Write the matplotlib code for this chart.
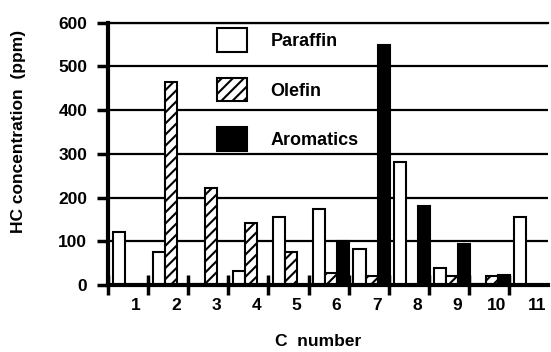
import matplotlib
matplotlib.use("Agg")
import matplotlib.pyplot as plt
from matplotlib.patches import Patch
import numpy as np

plt.rcParams['font.family'] = ['Liberation Sans', 'DejaVu Sans']
plt.rcParams['font.weight'] = 'bold'
plt.rcParams['hatch.linewidth'] = 1.5

categories = [1, 2, 3, 4, 5, 6, 7, 8, 9, 10, 11]
paraffin = [122, 76, 3, 33, 155, 174, 82, 281, 39, 3, 155]
olefin = [0, 464, 221, 141, 76, 27, 20, 0, 20, 20, 0]
aromatics = [0, 0, 0, 0, 0, 100, 548, 180, 94, 24, 0]
series_names = ["Paraffin", "Olefin", "Aromatics"]
y_ticks = [0, 100, 200, 300, 400, 500, 600]

fig = plt.figure(figsize=(5.51, 3.52), dpi=100)
ax = fig.add_axes([108/551, 1-285/352, 440/551, (285-22.7)/352])

x = np.array(categories, dtype=float)
w = 0.3
ax.bar(x - 0.23, paraffin, w, facecolor='white', edgecolor='black', linewidth=1.5, zorder=3)
ax.bar(x + 0.07, olefin, w, facecolor='white', edgecolor='black', linewidth=1.5, hatch='///', zorder=3)
ax.bar(x + 0.37, aromatics, w, facecolor='black', edgecolor='black', linewidth=1.5, zorder=3)

ax.set_xlim(0.5, 11.47)
ax.set_ylim(0, 600)
ax.set_yticks(y_ticks)
ax.set_yticklabels([str(v) for v in y_ticks], fontsize=12.5, fontweight='bold')
ax.yaxis.grid(True, color='black', linewidth=1.6, zorder=0)
ax.set_axisbelow(True)

ax.set_xticks(x - 0.5)
ax.set_xticklabels([])
ax.set_xticks(x + 0.2, minor=True)
ax.set_xticklabels([str(c) for c in categories], minor=True, fontsize=12.5, fontweight='bold')
ax.tick_params(axis='x', which='major', direction='inout', length=14, width=2.5)
ax.tick_params(axis='x', which='minor', length=0, pad=9)
ax.tick_params(axis='y', which='major', direction='out', length=8, width=2.5, pad=7)

ax.spines['right'].set_visible(False)
ax.spines['top'].set_linewidth(1.6)
ax.spines['left'].set_linewidth(3)
ax.spines['bottom'].set_linewidth(3)
ax.spines['bottom'].set_zorder(5)

handles = [
    Patch(facecolor='white', edgecolor='black', linewidth=1.5),
    Patch(facecolor='white', edgecolor='black', linewidth=1.5, hatch='///'),
    Patch(facecolor='black', edgecolor='black', linewidth=1.5),
]
leg = ax.legend(handles, series_names, loc='upper left', bbox_to_anchor=(0.248, 0.978),
                frameon=False, handlelength=1.67, handleheight=1.64,
                labelspacing=1.42, handletextpad=1.28, borderpad=0, borderaxespad=0,
                prop={'weight': 'bold', 'size': 13})

fig.text(19/551, 1-131/352, "HC concentration  (ppm)", rotation=90, ha='center', va='center',
         fontsize=12.5, fontweight='bold')
fig.text(318/551, 1-341/352, "C  number", ha='center', va='center', fontsize=12.5, fontweight='bold')

fig.savefig("out.png", dpi=100)
